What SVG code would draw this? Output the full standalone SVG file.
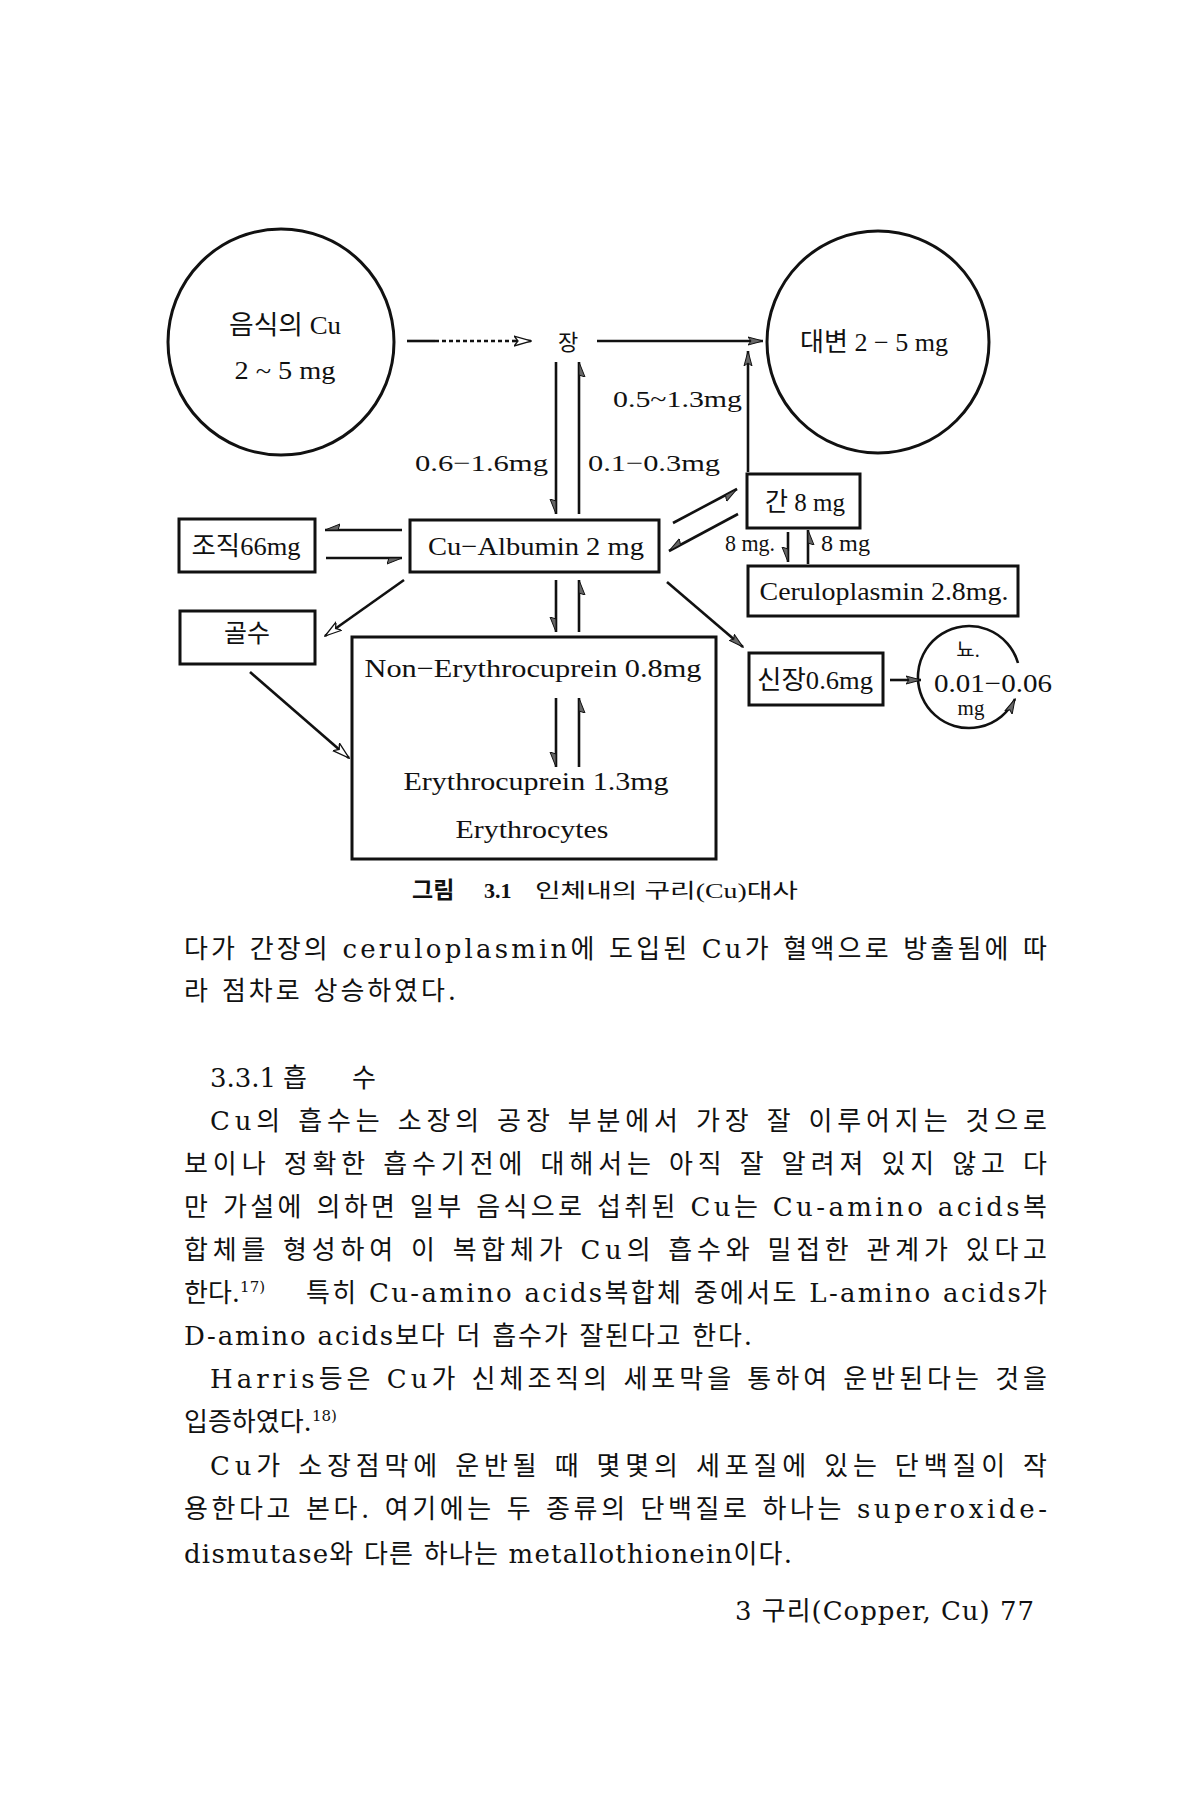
<svg xmlns="http://www.w3.org/2000/svg" width="1200" height="1800" viewBox="0 0 1200 1800">
<style>
.d{font-family:"Liberation Serif","Noto Sans CJK KR",serif;fill:#111;}
.b{font-family:"DejaVu Serif","Noto Sans CJK KR",serif;fill:#111;font-size:26px;}
.bx{fill:none;stroke:#111;stroke-width:3;}
.ln{fill:none;stroke:#111;stroke-width:2.6;}
</style>
<defs>
<marker id="ah" viewBox="0 0 16 10" refX="15" refY="5" markerWidth="16" markerHeight="10" markerUnits="userSpaceOnUse" orient="auto"><path d="M0,1 L15,5 L0,9 L3,5 Z" fill="#666" stroke="#111" stroke-width="1"/></marker>
<marker id="hh" viewBox="0 0 16 10" refX="15" refY="3" markerWidth="16" markerHeight="10" markerUnits="userSpaceOnUse" orient="auto"><path d="M15,3 L0,9 L2,3 Z" fill="#666" stroke="#111" stroke-width="1"/></marker>
<marker id="oh" viewBox="0 0 18 12" refX="17" refY="6" markerWidth="18" markerHeight="12" markerUnits="userSpaceOnUse" orient="auto"><path d="M0,1 L17,6 L0,11 L4,6 Z" fill="#fff" stroke="#111" stroke-width="1.3"/></marker>
</defs>
<rect x="0" y="0" width="1200" height="1800" fill="#fff"/>

<g id="food">
<circle cx="281" cy="342" r="113" class="bx"/>
<text class="d" x="285" y="334" font-size="26" text-anchor="middle" textLength="112" lengthAdjust="spacingAndGlyphs">음식의 Cu</text>
<text class="d" x="285" y="379" font-size="26" text-anchor="middle" textLength="101" lengthAdjust="spacingAndGlyphs">2 ~ 5 mg</text>
</g>
<g id="gut"><text class="d" x="568" y="350" font-size="22" text-anchor="middle">장</text></g>
<g id="feces">
<circle cx="878" cy="342" r="111" class="bx"/>
<text class="d" x="874" y="351" font-size="26" text-anchor="middle" textLength="148" lengthAdjust="spacingAndGlyphs">대변 2 − 5 mg</text>
</g>
<g id="tissue">
<rect x="179" y="519" width="136" height="53" class="bx"/>
<text class="d" x="246" y="555" font-size="26" text-anchor="middle" textLength="109" lengthAdjust="spacingAndGlyphs">조직66mg</text>
</g>
<g id="albumin">
<rect x="410" y="520" width="249" height="52" class="bx"/>
<text class="d" x="536" y="555" font-size="26" text-anchor="middle" textLength="216" lengthAdjust="spacingAndGlyphs">Cu−Albumin  2 mg</text>
</g>
<g id="marrow">
<rect x="180" y="611" width="135" height="53" class="bx"/>
<text class="d" x="247" y="642" font-size="25" text-anchor="middle">골수</text>
</g>
<g id="erythro">
<rect x="352" y="637" width="364" height="222" class="bx"/>
<text class="d" x="533" y="677" font-size="26" text-anchor="middle" textLength="337" lengthAdjust="spacingAndGlyphs">Non−Erythrocuprein 0.8mg</text>
<text class="d" x="536" y="790" font-size="26" text-anchor="middle" textLength="265" lengthAdjust="spacingAndGlyphs">Erythrocuprein 1.3mg</text>
<text class="d" x="532" y="838" font-size="26" text-anchor="middle" textLength="153" lengthAdjust="spacingAndGlyphs">Erythrocytes</text>
</g>
<g id="liver">
<rect x="747" y="474" width="113" height="54" class="bx"/>
<text class="d" x="805" y="511" font-size="26" text-anchor="middle" textLength="80" lengthAdjust="spacingAndGlyphs">간 8 mg</text>
</g>
<g id="ceruloplasmin">
<rect x="748" y="566" width="270" height="50" class="bx"/>
<text class="d" x="884" y="600" font-size="26" text-anchor="middle" textLength="249" lengthAdjust="spacingAndGlyphs">Ceruloplasmin  2.8mg.</text>
</g>
<g id="kidney">
<rect x="749" y="653" width="134" height="52" class="bx"/>
<text class="d" x="815" y="689" font-size="26" text-anchor="middle" textLength="116" lengthAdjust="spacingAndGlyphs">신장0.6mg</text>
</g>
<g id="urine">
<path d="M1018,663 A51,51 0 1 0 1015,699" class="ln" marker-end="url(#ah)"/>
<text class="d" x="968" y="657" font-size="20" text-anchor="middle">뇨.</text>
<text class="d" x="993" y="692" font-size="26" text-anchor="middle" textLength="118" lengthAdjust="spacingAndGlyphs">0.01−0.06</text>
<text class="d" x="971" y="715" font-size="21" text-anchor="middle">mg</text>
</g>

<g id="connectors">
<path d="M407,341 L435,341" class="ln"/>
<path d="M435,341 L512,341" class="ln" stroke-width="1.6" stroke-dasharray="4 3"/>
<path d="M512,341 L531,341" class="ln" marker-end="url(#oh)"/>
<path d="M597,341 L763,341" class="ln" marker-end="url(#ah)"/>
<path d="M748,472 L748,351" class="ln" marker-end="url(#ah)"/>
<path d="M556,362 L556,514" class="ln" marker-end="url(#hh)"/>
<path d="M579,514 L579,362" class="ln" marker-end="url(#hh)"/>
<path d="M402,530 L325,530" class="ln" marker-end="url(#hh)"/>
<path d="M326,558 L402,558" class="ln" marker-end="url(#hh)"/>
<path d="M404,580 L325,636" class="ln" marker-end="url(#oh)"/>
<path d="M250,672 L349,758" class="ln" marker-end="url(#oh)"/>
<path d="M556,580 L556,632" class="ln" marker-end="url(#hh)"/>
<path d="M579,632 L579,580" class="ln" marker-end="url(#hh)"/>
<path d="M556,698 L556,767" class="ln" marker-end="url(#hh)"/>
<path d="M579,767 L579,698" class="ln" marker-end="url(#hh)"/>
<path d="M673,523 L737,489" class="ln" marker-end="url(#hh)"/>
<path d="M738,514 L669,551" class="ln" marker-end="url(#hh)"/>
<path d="M788,532 L788,562" class="ln" marker-end="url(#hh)"/>
<path d="M808,564 L808,530" class="ln" marker-end="url(#hh)"/>
<path d="M667,582 L743,647" class="ln" marker-end="url(#ah)"/>
<path d="M890,680 L921,680" class="ln" marker-end="url(#ah)"/>
</g>

<g id="labels">
<text class="d" x="742" y="407" font-size="24" text-anchor="end" textLength="129" lengthAdjust="spacingAndGlyphs">0.5~1.3mg</text>
<text class="d" x="548" y="471" font-size="24" text-anchor="end" textLength="133" lengthAdjust="spacingAndGlyphs">0.6−1.6mg</text>
<text class="d" x="588" y="471" font-size="24" textLength="132" lengthAdjust="spacingAndGlyphs">0.1−0.3mg</text>
<text class="d" x="725" y="551" font-size="23" textLength="50" lengthAdjust="spacingAndGlyphs">8 mg.</text>
<text class="d" x="821" y="551" font-size="23" textLength="49" lengthAdjust="spacingAndGlyphs">8 mg</text>
</g>

<g id="caption">
<text class="d" x="412" y="898" font-size="23" font-weight="bold">그림</text>
<text class="d" x="484" y="898" font-size="22" font-weight="bold">3.1</text>
<text class="d" x="535" y="898" font-size="20" textLength="263" lengthAdjust="spacingAndGlyphs">인체내의 구리(Cu)대사</text>
</g>

<g id="body">
<text class="b" x="184" y="958" textLength="863" lengthAdjust="spacing">다가 간장의 ceruloplasmin에 도입된 Cu가 혈액으로 방출됨에 따</text>
<text class="b" x="184" y="1000" textLength="272" lengthAdjust="spacing">라 점차로 상승하였다.</text>
<text class="b" x="210" y="1087">3.3.1</text>
<text class="b" x="283" y="1087">흡</text>
<text class="b" x="352" y="1087">수</text>
<text class="b" x="210" y="1130" textLength="837" lengthAdjust="spacing">Cu의 흡수는 소장의 공장 부분에서 가장 잘 이루어지는 것으로</text>
<text class="b" x="184" y="1173" textLength="863" lengthAdjust="spacing">보이나 정확한 흡수기전에 대해서는 아직 잘 알려져 있지 않고 다</text>
<text class="b" x="184" y="1216" textLength="863" lengthAdjust="spacing">만 가설에 의하면 일부 음식으로 섭취된 Cu는 Cu-amino acids복</text>
<text class="b" x="184" y="1259" textLength="863" lengthAdjust="spacing">합체를 형성하여 이 복합체가 Cu의 흡수와 밀접한 관계가 있다고</text>
<text class="b" x="184" y="1302">한다.<tspan font-size="15" dy="-10">17)</tspan></text>
<text class="b" x="306" y="1302" textLength="741" lengthAdjust="spacing">특히 Cu-amino acids복합체 중에서도 L-amino acids가</text>
<text class="b" x="184" y="1345" textLength="568" lengthAdjust="spacing">D-amino acids보다 더 흡수가 잘된다고 한다.</text>
<text class="b" x="210" y="1388" textLength="837" lengthAdjust="spacing">Harris등은 Cu가 신체조직의 세포막을 통하여 운반된다는 것을</text>
<text class="b" x="184" y="1431">입증하였다.<tspan font-size="15" dy="-10">18)</tspan></text>
<text class="b" x="210" y="1475" textLength="837" lengthAdjust="spacing">Cu가 소장점막에 운반될 때 몇몇의 세포질에 있는 단백질이 작</text>
<text class="b" x="184" y="1518" textLength="863" lengthAdjust="spacing">용한다고 본다. 여기에는 두 종류의 단백질로 하나는 superoxide-</text>
<text class="b" x="184" y="1563" textLength="608" lengthAdjust="spacing">dismutase와 다른 하나는 metallothionein이다.</text>
<text class="b" x="735" y="1620" font-size="24" textLength="299" lengthAdjust="spacing">3 구리(Copper, Cu)  77</text>
</g>
</svg>
